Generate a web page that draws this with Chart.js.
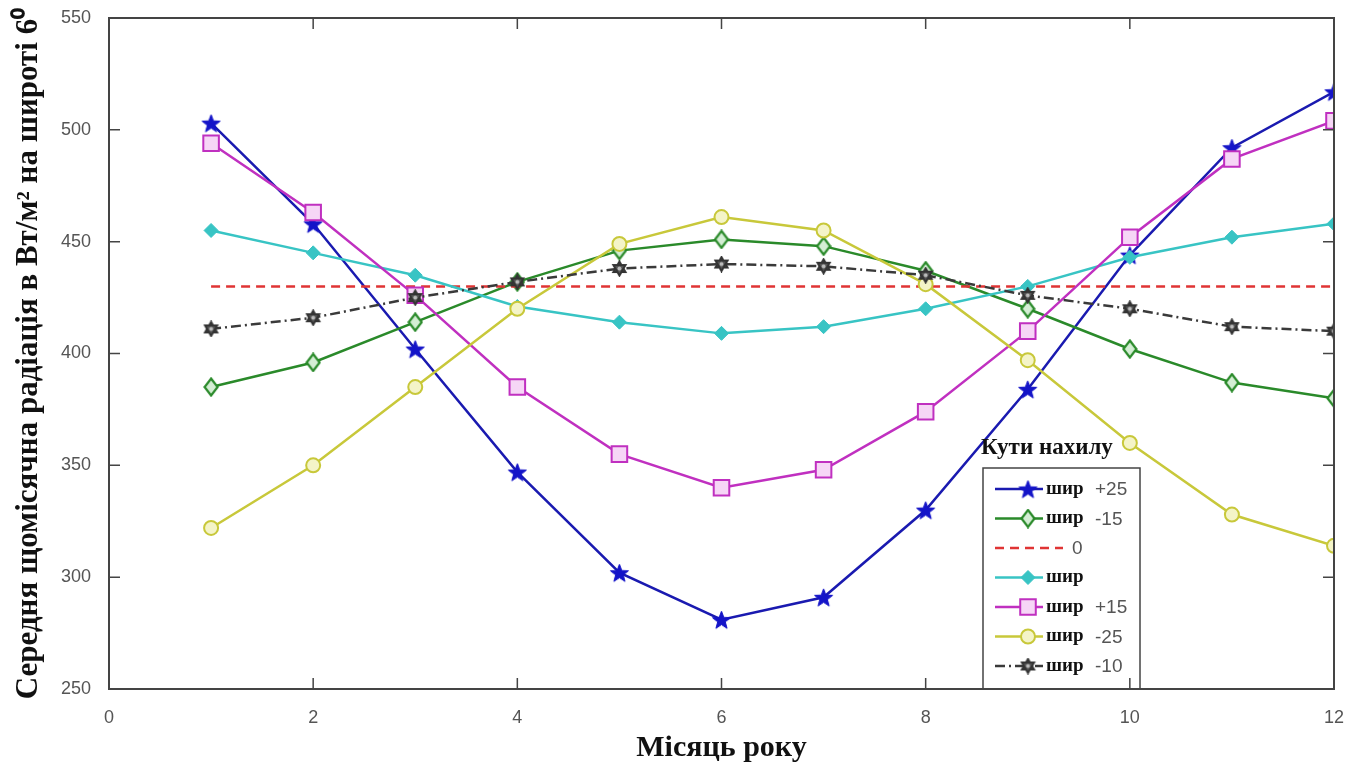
<!DOCTYPE html>
<html>
<head>
<meta charset="utf-8">
<script src="https://cdn.jsdelivr.net/npm/chart.js@4.4.1/dist/chart.umd.min.js"></script>
<style>
  html, body { margin: 0; padding: 0; background: #fff; }
  #wrap { width: 1350px; height: 766px; }
</style>
</head>
<body>
<div id="wrap"><canvas id="chart" width="1350" height="766"></canvas></div>
<script>
// months and tick values
const months = [1, 2, 3, 4, 5, 6, 7, 8, 9, 10, 11, 12];
const xTicks = [0, 2, 4, 6, 8, 10, 12];
const yTicks = [250, 300, 350, 400, 450, 500, 550];

// series
const seriesNames = ['шир +25', 'шир -15', '0', 'шир', 'шир +15', 'шир -25', 'шир -10'];
const tiltPlus25  = [503, 458, 402, 347, 302, 281, 291, 330, 384, 444, 492, 517];
const tiltMinus15 = [385, 396, 414, 432, 446, 451, 448, 437, 420, 402, 387, 380];
const tiltZero    = [430, 430, 430, 430, 430, 430, 430, 430, 430, 430, 430, 430];
const tiltLat     = [455, 445, 435, 421, 414, 409, 412, 420, 430, 443, 452, 458];
const tiltPlus15  = [494, 463, 426, 385, 355, 340, 348, 374, 410, 452, 487, 504];
const tiltMinus25 = [322, 350, 385, 420, 449, 461, 455, 431, 397, 360, 328, 314];
const tiltMinus10 = [411, 416, 425, 432, 438, 440, 439, 435, 426, 420, 412, 410];

const legendTitle = 'Кути нахилу';
const xTitle = 'Місяць року';
const yTitle = 'Середня щомісячна радіація в Вт/м² на широті 6⁰';

// custom markers: filled 5-point star, tall diamond and hexagram
function makeStar(color, size) {
  const c = document.createElement('canvas');
  c.width = c.height = size;
  const g = c.getContext('2d');
  const cx = size / 2, cy = size / 2 + 1, R = size / 2 - 1, r = R * 0.42;
  g.beginPath();
  for (let i = 0; i < 10; i++) {
    const a = -Math.PI / 2 + i * Math.PI / 5;
    const rr = i % 2 ? r : R;
    g.lineTo(cx + rr * Math.cos(a), cy + rr * Math.sin(a));
  }
  g.closePath();
  g.fillStyle = color;
  g.fill();
  g.strokeStyle = color;
  g.lineWidth = 1;
  g.stroke();
  return c;
}

function makeDiamond(color, fill, w, h) {
  const c = document.createElement('canvas');
  c.width = w; c.height = h;
  const g = c.getContext('2d');
  g.beginPath();
  g.moveTo(w / 2, 1.5); g.lineTo(w - 1.5, h / 2); g.lineTo(w / 2, h - 1.5); g.lineTo(1.5, h / 2);
  g.closePath();
  g.fillStyle = fill;
  g.fill();
  g.strokeStyle = color;
  g.lineWidth = 2.2;
  g.stroke();
  return c;
}

function makeHexagram(color, size) {
  const c = document.createElement('canvas');
  c.width = c.height = size;
  const g = c.getContext('2d');
  const cx = size / 2, cy = size / 2, R = size / 2 - 1.5;
  g.strokeStyle = color;
  g.fillStyle = '#555';
  g.lineWidth = 2;
  [-Math.PI / 2, Math.PI / 2].forEach(a0 => {
    g.beginPath();
    for (let i = 0; i < 3; i++) {
      const a = a0 + i * 2 * Math.PI / 3;
      g.lineTo(cx + R * Math.cos(a), cy + R * Math.sin(a));
    }
    g.closePath();
    g.fill();
    g.stroke();
  });
  g.beginPath();
  g.arc(cx, cy, 2, 0, Math.PI * 2);
  g.fillStyle = '#bbb';
  g.fill();
  return c;
}

const starImg = makeStar('#1414c8', 21);
const diamondImg = makeDiamond('#2a8a2a', '#d4eed4', 16, 20);
const hexImg = makeHexagram('#333', 17);

const pts = vals => vals.map((v, i) => ({ x: months[i], y: v }));

const datasets = [
  { label: seriesNames[0], data: pts(tiltPlus25), borderColor: '#1a1ab0', backgroundColor: '#1414c8',
    borderWidth: 2.5, pointStyle: starImg, pointRadius: 9 },
  { label: seriesNames[1], data: pts(tiltMinus15), borderColor: '#2a8a2a', backgroundColor: '#d4eed4',
    borderWidth: 2.5, pointStyle: diamondImg, pointRadius: 9, pointBorderWidth: 2 },
  { label: seriesNames[2], data: pts(tiltZero), borderColor: '#e03434', backgroundColor: '#e03434',
    borderWidth: 2.5, borderDash: [9, 6], pointRadius: 0 },
  { label: seriesNames[3], data: pts(tiltLat), borderColor: '#38c4c4', backgroundColor: '#38c4c4',
    borderWidth: 2.5, pointStyle: 'rectRot', pointRadius: 7, pointBorderWidth: 1 },
  { label: seriesNames[4], data: pts(tiltPlus15), borderColor: '#c030c0', backgroundColor: '#f6d6f6',
    borderWidth: 2.5, pointStyle: 'rect', pointRadius: 11, pointBorderWidth: 2 },
  { label: seriesNames[5], data: pts(tiltMinus25), borderColor: '#c8c83a', backgroundColor: '#f4f4c8',
    borderWidth: 2.5, pointStyle: 'circle', pointRadius: 7, pointBorderWidth: 2 },
  { label: seriesNames[6], data: pts(tiltMinus10), borderColor: '#3a3a3a', backgroundColor: '#555',
    borderWidth: 2.5, borderDash: [10, 4, 2, 4], pointStyle: hexImg, pointRadius: 8 }
];
datasets.forEach((d, i) => { d.order = datasets.length - i; d.tension = 0; d.pointBorderColor = d.borderColor; });

// frame with inside ticks
const framePlugin = {
  id: 'frame',
  afterDraw(chart) {
    const { ctx, chartArea: a, scales } = chart;
    ctx.save();
    ctx.strokeStyle = '#444';
    ctx.lineWidth = 2;
    ctx.strokeRect(a.left, a.top, a.right - a.left, a.bottom - a.top);
    ctx.lineWidth = 1.5;
    ctx.beginPath();
    yTicks.forEach(v => {
      const y = scales.y.getPixelForValue(v);
      ctx.moveTo(a.left, y); ctx.lineTo(a.left + 11, y);
      ctx.moveTo(a.right, y); ctx.lineTo(a.right - 11, y);
    });
    xTicks.forEach(v => {
      const x = scales.x.getPixelForValue(v);
      ctx.moveTo(x, a.bottom); ctx.lineTo(x, a.bottom - 11);
      ctx.moveTo(x, a.top); ctx.lineTo(x, a.top + 11);
    });
    ctx.stroke();
    ctx.restore();
  }
};

// legend drawn inside the plot, bottom right
const legendPlugin = {
  id: 'innerLegend',
  afterDatasetsDraw(chart) {
    const ctx = chart.ctx;
    const box = { x: 983, y: 468, w: 157, h: 221 };
    ctx.save();
    ctx.fillStyle = '#fff';
    ctx.fillRect(box.x, box.y, box.w, box.h);
    ctx.strokeStyle = '#444';
    ctx.lineWidth = 1.5;
    ctx.strokeRect(box.x, box.y, box.w, box.h);

    ctx.fillStyle = '#111';
    ctx.font = 'bold 23px "Liberation Serif", "Times New Roman", serif';
    ctx.textBaseline = 'middle';
    ctx.textAlign = 'left';
    ctx.fillText(legendTitle, 981, 448);

    chart.data.datasets.forEach((d, i) => {
      const y = box.y + 21 + i * 29.5;
      const x0 = box.x + 12;
      const x1 = d.pointRadius ? box.x + 60 : box.x + 80;
      ctx.save();
      ctx.strokeStyle = d.borderColor;
      ctx.lineWidth = 2.5;
      ctx.setLineDash(d.borderDash || []);
      ctx.beginPath();
      ctx.moveTo(x0, y); ctx.lineTo(x1, y);
      ctx.stroke();
      ctx.setLineDash([]);
      if (d.pointRadius) {
        ctx.fillStyle = d.backgroundColor;
        ctx.strokeStyle = d.borderColor;
        ctx.lineWidth = d.pointBorderWidth || 1;
        Chart.helpers.drawPoint(ctx, { pointStyle: d.pointStyle, rotation: 0,
          radius: d.pointRadius, borderWidth: d.pointBorderWidth || 1 }, box.x + 45, y);
      }
      ctx.restore();
      const parts = d.label.split(' ');
      let tx = x1 + 3;
      if (parts[0] === 'шир') {
        ctx.fillStyle = '#111';
        ctx.font = 'bold 19px "Liberation Serif", "Times New Roman", serif';
        ctx.fillText(parts[0], tx, y);
        tx += 49;
        parts.shift();
      } else {
        tx += 6;
      }
      if (parts.length) {
        ctx.fillStyle = '#555';
        ctx.font = '19px "Liberation Sans", Arial, sans-serif';
        ctx.fillText(parts.join(' '), tx, y + 1);
      }
    });
    ctx.restore();
  }
};

new Chart(document.getElementById('chart'), {
  type: 'line',
  data: { datasets },
  options: {
    responsive: false,
    animation: false,
    devicePixelRatio: 1,
    layout: { padding: { top: 18, right: 16, left: 0, bottom: 0 } },
    plugins: { legend: { display: false }, tooltip: { enabled: false } },
    scales: {
      x: {
        type: 'linear', min: 0, max: 12,
        afterBuildTicks: s => { s.ticks = xTicks.map(v => ({ value: v })); },
        afterFit: s => { s.height = 77; s.paddingLeft = 0; s.paddingRight = 0; },
        grid: { display: false, drawTicks: false },
        border: { display: false },
        ticks: { color: '#555', padding: 18, font: { family: '"Liberation Sans", Arial, sans-serif', size: 18 } },
        title: { display: true, text: xTitle, color: '#111', padding: { top: 0, bottom: 0 },
          font: { family: '"Liberation Serif", "Times New Roman", serif', size: 30, weight: 'bold' } }
      },
      y: {
        type: 'linear', min: 250, max: 550,
        afterBuildTicks: s => { s.ticks = yTicks.map(v => ({ value: v })); },
        afterFit: s => { s.width = 109; s.paddingTop = 0; s.paddingBottom = 0; },
        grid: { display: false, drawTicks: false },
        border: { display: false },
        ticks: { color: '#555', padding: 18, font: { family: '"Liberation Sans", Arial, sans-serif', size: 18 } },
        title: { display: true, text: yTitle, color: '#111', padding: { top: 10, bottom: 0 },
          font: { family: '"Liberation Serif", "Times New Roman", serif', size: 31, weight: 'bold' } }
      }
    }
  },
  plugins: [framePlugin, legendPlugin]
});
</script>
</body>
</html>
